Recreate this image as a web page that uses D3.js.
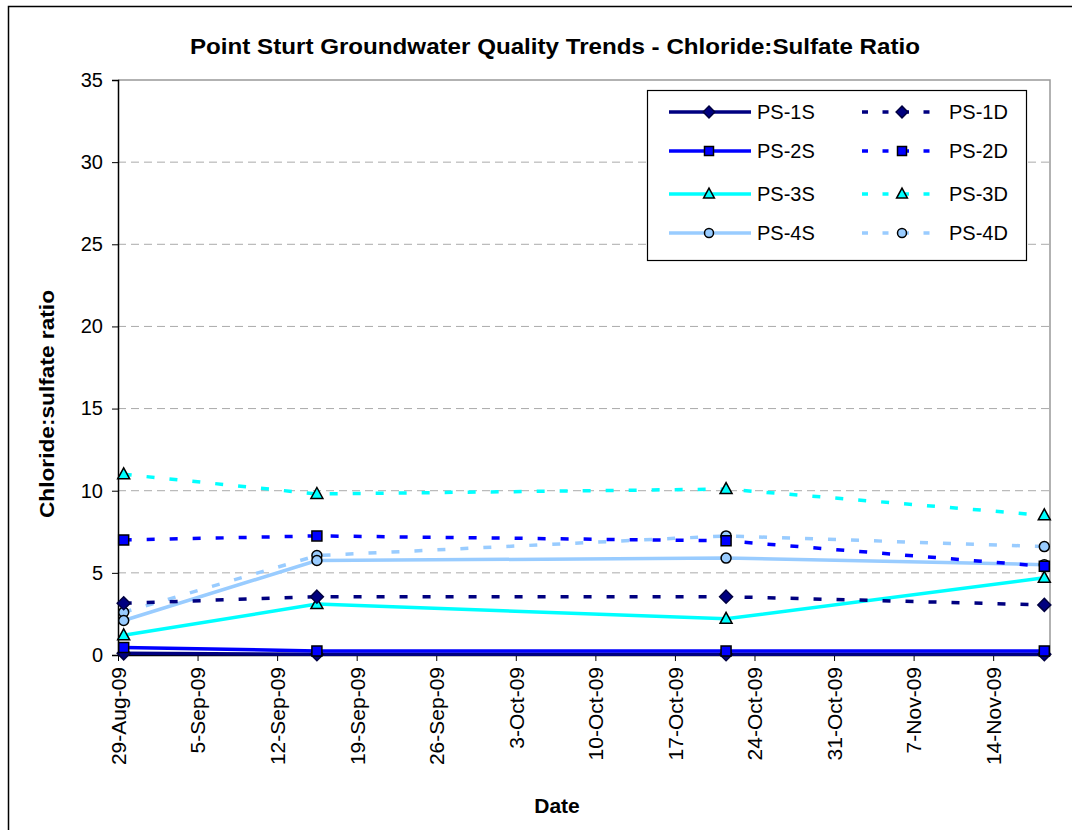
<!DOCTYPE html>
<html><head><meta charset="utf-8">
<script src="https://cdn.jsdelivr.net/npm/d3@7"></script>
<style>body{margin:0;background:#fff}svg text{font-family:Arial,"Liberation Sans",sans-serif}</style>
</head><body><svg id="c" width="1072" height="830"></svg>
<script>
const sampleDates = ["2009-08-29","2009-09-15","2009-10-21","2009-11-18"];
const seriesNames = ["PS-1S","PS-1D","PS-2S","PS-2D","PS-3S","PS-3D","PS-4S","PS-4D"];
const ps1S = [0.1, 0.05, 0.05, 0.05];
const ps1D = [3.15, 3.55, 3.55, 3.05];
const ps2S = [0.45, 0.25, 0.25, 0.25];
const ps2D = [7.0, 7.25, 6.95, 5.4];
const ps3S = [1.2, 3.1, 2.2, 4.7];
const ps3D = [11.0, 9.8, 10.1, 8.5];
const ps4S = [2.1, 5.75, 5.9, 5.5];
const ps4D = [2.6, 6.05, 7.25, 6.6];
const yTicks = [0,5,10,15,20,25,30,35];
const xTickDates = ["2009-08-29","2009-09-05","2009-09-12","2009-09-19","2009-09-26","2009-10-03","2009-10-10","2009-10-17","2009-10-24","2009-10-31","2009-11-07","2009-11-14"];

const parse = d3.timeParse("%Y-%m-%d");
const fmt = d3.timeFormat("%-d-%b-%y");
const svg = d3.select("#c");
const L=118,R=1050,T=80,B=655;

svg.append("rect").attr("x",8.5).attr("y",6.5).attr("width",1100).attr("height",900)
  .attr("fill","none").attr("stroke","#000").attr("stroke-width",1.5);

const x = d3.scaleTime().domain([parse("2009-08-29"), parse("2009-11-19")]).range([L,R]);
const y = d3.scaleLinear().domain([0,35]).range([B,T]);

svg.append("path").attr("d",`M${L},${T}H${R}V${B}`).attr("fill","none").attr("stroke","#999").attr("stroke-width",1.5);

svg.append("g").selectAll("line").data(yTicks.filter(v=>v>0&&v<35)).join("line")
  .attr("x1",L).attr("x2",R).attr("y1",d=>y(d)).attr("y2",d=>y(d))
  .attr("stroke","#aaa").attr("stroke-dasharray","8,5").attr("stroke-width",1);

const yAxis = svg.append("g").attr("transform",`translate(${L},0)`)
  .call(d3.axisLeft(y).tickValues(yTicks).tickSize(6).tickPadding(9));
yAxis.select(".domain").attr("stroke","#000").attr("stroke-width",1.5);
yAxis.selectAll("text").attr("font-size",20).attr("fill","#000");

const xAxis = svg.append("g").attr("transform",`translate(0,${B})`)
  .call(d3.axisBottom(x).tickValues(xTickDates.map(parse)).tickFormat(fmt).tickSize(6).tickSizeOuter(0));
xAxis.select(".domain").attr("stroke","#000").attr("stroke-width",1.5);
xAxis.selectAll("text").attr("font-size",21).attr("fill","#000")
  .attr("transform","rotate(-90)").attr("text-anchor","end").attr("dy","0.35em").attr("x",-12).attr("y",0);

svg.append("text").attr("x",555).attr("y",54).attr("text-anchor","middle").attr("font-size",22).attr("font-weight","bold")
  .attr("textLength",730).attr("lengthAdjust","spacingAndGlyphs").text("Point Sturt Groundwater Quality Trends - Chloride:Sulfate Ratio");
svg.append("text").attr("transform","translate(54,404) rotate(-90)").attr("text-anchor","middle").attr("font-size",21).attr("font-weight","bold")
  .attr("textLength",228).attr("lengthAdjust","spacingAndGlyphs").text("Chloride:sulfate ratio");
svg.append("text").attr("x",557).attr("y",813).attr("text-anchor","middle").attr("font-size",21).attr("font-weight","bold").text("Date");

const navy="#000080", blue="#0000FF", cyan="#00FFFF", lb="#99CCFF";
const series = [
  {name:"PS-1S", vals:ps1S, color:navy, dash:null, marker:"diamond", fill:navy},
  {name:"PS-1D", vals:ps1D, color:navy, dash:"8,15", marker:"diamond", fill:navy},
  {name:"PS-2S", vals:ps2S, color:blue, dash:null, marker:"square", fill:blue},
  {name:"PS-2D", vals:ps2D, color:blue, dash:"8,15", marker:"square", fill:blue},
  {name:"PS-3S", vals:ps3S, color:cyan, dash:null, marker:"triangle", fill:cyan},
  {name:"PS-3D", vals:ps3D, color:cyan, dash:"8,15", marker:"triangle", fill:cyan},
  {name:"PS-4S", vals:ps4S, color:lb, dash:null, marker:"circle", fill:lb},
  {name:"PS-4D", vals:ps4D, color:lb, dash:"8,15", marker:"circle", fill:lb},
];
const dates = sampleDates.map(d=>d3.timeHour.offset(parse(d),12));

function markerPath(type, k){
  if(type==="diamond") return `M0,${-6.5*k}L${6.5*k},0L0,${6.5*k}L${-6.5*k},0Z`;
  if(type==="square") return `M${-5*k},${-5*k}H${5*k}V${5*k}H${-5*k}Z`;
  if(type==="triangle") return `M0,${-6.5*k}L${6*k},${4.5*k}H${-6*k}Z`;
  return d3.symbol(d3.symbolCircle, Math.PI*25*k*k)();
}
function drawMarker(g, type, fill, cx, cy, k=1){
  g.append("path").attr("d",markerPath(type,k)).attr("transform",`translate(${cx},${cy})`)
   .attr("fill",fill).attr("stroke",type==="diamond"?"#000040":"#000").attr("stroke-width",1.5);
}

const line = d3.line().x(d=>x(d[0])).y(d=>y(d[1]));
const drawOrder = ["PS-4D","PS-4S","PS-3D","PS-3S","PS-2D","PS-1D","PS-1S","PS-2S"];
const plot = svg.append("g");
drawOrder.forEach(n=>{
  const s = series.find(z=>z.name===n);
  const pts = dates.map((d,i)=>[d,s.vals[i]]);
  plot.append("path").datum(pts).attr("d",line).attr("fill","none").attr("stroke",s.color)
    .attr("stroke-width",3.5).attr("stroke-dasharray",s.dash);
});
drawOrder.forEach(n=>{
  const s = series.find(z=>z.name===n);
  dates.forEach((d,i)=>drawMarker(plot,s.marker,s.fill,x(d),y(s.vals[i])));
});

const lg = svg.append("g");
lg.append("rect").attr("x",647.5).attr("y",90.5).attr("width",379).attr("height",170).attr("fill","#fff").attr("stroke","#000").attr("stroke-width",1.2);
const rowY=[112,151,194,233];
series.forEach((s,i)=>{
  const col = i%2, row = Math.floor(i/2);
  const x0 = col===0?669:862, x1 = col===0?751:943, mx=col===0?709:902, tx=col===0?757:949;
  const yy = rowY[row];
  lg.append("line").attr("x1",x0).attr("x2",x1).attr("y1",yy).attr("y2",yy).attr("stroke",s.color)
    .attr("stroke-width",3.5).attr("stroke-dasharray",s.dash?"6,14.5":null);
  drawMarker(lg,s.marker,s.fill,mx,yy,0.9);
  lg.append("text").attr("x",tx).attr("y",yy).attr("dy","0.36em").attr("font-size",20).text(s.name);
});
</script></body></html>
